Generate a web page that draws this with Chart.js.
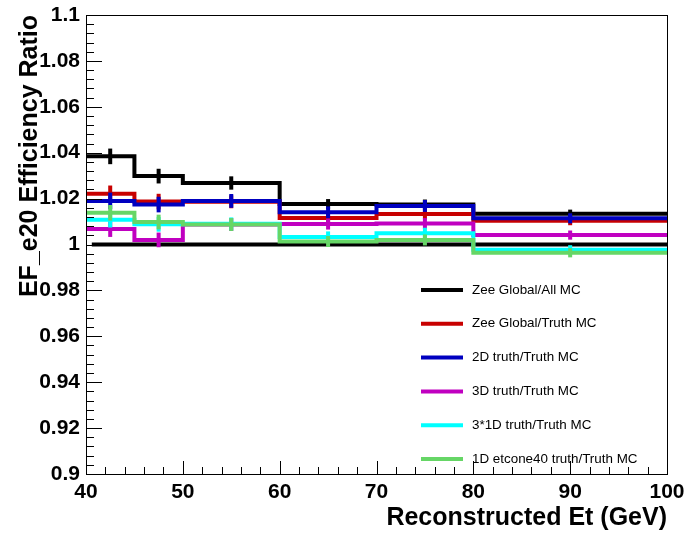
<!DOCTYPE html>
<html>
<head>
<meta charset="utf-8">
<script src="https://cdn.jsdelivr.net/npm/chart.js@4"></script>
<style>
  html, body { margin: 0; padding: 0; background: #fff; }
</style>
</head>
<body>
<canvas id="c" width="684" height="536"></canvas>
<script>
// bin edges of the Et histograms (GeV)
const binEdges = [40, 45, 50, 60, 70, 80, 100];

// efficiency ratio per bin, and its error
const zeeAll      = [1.0384, 1.0298, 1.0268, 1.0176, 1.0174, 1.0134];
const zeeAllErr   = [0.0034, 0.0032, 0.0029, 0.0022, 0.0022, 0.0018];
const zeeTruth    = [1.0221, 1.0187, 1.0186, 1.0115, 1.0133, 1.0104];
const zeeTruthErr = [0.0036, 0.0034, 0.0028, 0.0024, 0.0024, 0.0020];
const truth2D     = [1.0190, 1.0174, 1.0190, 1.0140, 1.0168, 1.0114];
const truth2DErr  = [0.0036, 0.0034, 0.0030, 0.0026, 0.0026, 0.0022];
const truth3D     = [1.0067, 1.0020, 1.0087, 1.0089, 1.0091, 1.0041];
const truth3DErr  = [0.0034, 0.0032, 0.0028, 0.0024, 0.0024, 0.0020];
const truth3x1D   = [1.0108, 1.0088, 1.0090, 1.0033, 1.0049, 0.9977];
const truth3x1DErr= [0.0034, 0.0032, 0.0028, 0.0024, 0.0024, 0.0020];
const etcone40    = [1.0138, 1.0098, 1.0087, 1.0013, 1.0020, 0.9964];
const etcone40Err = [0.0034, 0.0032, 0.0028, 0.0024, 0.0024, 0.0020];

// reference line at ratio 1
const refLineX = [40.6, 100];
const refLineY = [1, 1];

const labels = [
  "Zee Global/All MC",
  "Zee Global/Truth MC",
  "2D truth/Truth MC",
  "3D truth/Truth MC",
  "3*1D truth/Truth MC",
  "1D etcone40 truth/Truth MC"
];
const colors = ["#000000", "#c80000", "#0000c0", "#c000c0", "#00ffff", "#66d666"];
const series = [zeeAll, zeeTruth, truth2D, truth3D, truth3x1D, etcone40];
const errors = [zeeAllErr, zeeTruthErr, truth2DErr, truth3DErr, truth3x1DErr, etcone40Err];

const FONT = "'Liberation Sans', Arial, Helvetica, sans-serif";

function stepPoints(vals) {
  const pts = vals.map((v, i) => ({ x: binEdges[i], y: v }));
  pts.push({ x: binEdges[binEdges.length - 1], y: vals[vals.length - 1] });
  return pts;
}

const datasets = series.map((vals, i) => ({
  label: labels[i],
  data: stepPoints(vals),
  errors: errors[i],
  borderColor: colors[i],
  borderWidth: 4,
  stepped: "before",
  pointRadius: 0,
  fill: false,
  order: series.length - 1 - i
}));
datasets.push({
  label: "ref",
  data: refLineX.map((x, i) => ({ x: x, y: refLineY[i] })),
  borderColor: "#000000",
  borderWidth: 4,
  pointRadius: 0,
  fill: false,
  order: series.length,
  noLegend: true
});

// error bars drawn right after each histogram, like ROOT does
const errorBars = {
  id: "errorBars",
  afterDatasetDraw(chart, args) {
    const ds = chart.data.datasets[args.index];
    if (!ds.errors) return;
    const { ctx, scales: { x, y } } = chart;
    ctx.save();
    ctx.strokeStyle = ds.borderColor;
    ctx.lineWidth = 4;
    ds.errors.forEach((e, i) => {
      const cx = x.getPixelForValue((binEdges[i] + binEdges[i + 1]) / 2);
      const v = ds.data[i].y;
      ctx.beginPath();
      ctx.moveTo(cx, y.getPixelForValue(v + e));
      ctx.lineTo(cx, y.getPixelForValue(v - e));
      ctx.stroke();
    });
    ctx.restore();
  }
};

// ROOT style frame with inward ticks, and the legend
const frame = {
  id: "frame",
  afterDraw(chart) {
    const { ctx, chartArea: a, scales: { x, y } } = chart;
    ctx.save();
    ctx.strokeStyle = "#000";
    ctx.lineWidth = 1;
    ctx.strokeRect(Math.round(a.left) + 0.5, Math.round(a.top) + 0.5,
                   Math.round(a.right - a.left), Math.round(a.bottom - a.top));
    ctx.beginPath();
    for (let v = 40; v <= 100.001; v += 2) {
      const px = Math.round(x.getPixelForValue(v)) + 0.5;
      const len = Math.abs((v - 40) % 10) < 0.01 ? 13 : 7;
      ctx.moveTo(px, a.bottom);
      ctx.lineTo(px, a.bottom - len);
    }
    for (let k = 0; k <= 50; k++) {
      const v = 0.9 + k * 0.004;
      const py = Math.round(y.getPixelForValue(v)) + 0.5;
      const len = k % 5 === 0 ? 16 : 8;
      ctx.moveTo(a.left, py);
      ctx.lineTo(a.left + len, py);
    }
    ctx.stroke();

    // legend
    const legX = 421, legLineW = 42, legTextX = 472, legTop = 290, legStep = 33.8;
    ctx.font = "13.4px " + FONT;
    ctx.textBaseline = "middle";
    ctx.textAlign = "left";
    chart.data.datasets.filter(d => !d.noLegend).forEach((d, i) => {
      const ly = legTop + i * legStep;
      ctx.strokeStyle = d.borderColor;
      ctx.lineWidth = 4;
      ctx.beginPath();
      ctx.moveTo(legX, ly);
      ctx.lineTo(legX + legLineW, ly);
      ctx.stroke();
      ctx.fillStyle = "#000";
      ctx.fillText(d.label, legTextX, ly);
    });
    ctx.restore();
  }
};

new Chart(document.getElementById("c"), {
  type: "line",
  data: { datasets: datasets },
  options: {
    responsive: false,
    animation: false,
    layout: { padding: { top: 15, right: 17, left: 0, bottom: 0 } },
    plugins: { legend: { display: false }, tooltip: { enabled: false } },
    scales: {
      x: {
        type: "linear",
        min: 40, max: 100,
        grid: { display: false, drawTicks: false },
        border: { display: false },
        ticks: { stepSize: 10, padding: 6, color: "#000", font: { family: FONT, size: 21, weight: "bold" } },
        title: {
          display: true, text: "Reconstructed Et (GeV)", align: "end", color: "#000",
          font: { family: FONT, size: 25, weight: "bold" }, padding: { top: 0, bottom: 3 }
        },
        afterFit: s => { s.height = 62; s.paddingLeft = 0; s.paddingRight = 0; }
      },
      y: {
        min: 0.9, max: 1.1,
        grid: { display: false, drawTicks: false },
        border: { display: false },
        ticks: {
          stepSize: 0.02, padding: 6, color: "#000",
          font: { family: FONT, size: 21, weight: "bold" },
          callback: v => String(+v.toFixed(2))
        },
        title: {
          display: true, text: "EF_e20 Efficiency Ratio", align: "end", color: "#000",
          font: { family: FONT, size: 25, weight: "bold" }, padding: { top: 15, bottom: 0 }
        },
        afterFit: s => { s.width = 86; s.paddingTop = 0; s.paddingBottom = 0; }
      }
    }
  },
  plugins: [errorBars, frame]
});
</script>
</body>
</html>
